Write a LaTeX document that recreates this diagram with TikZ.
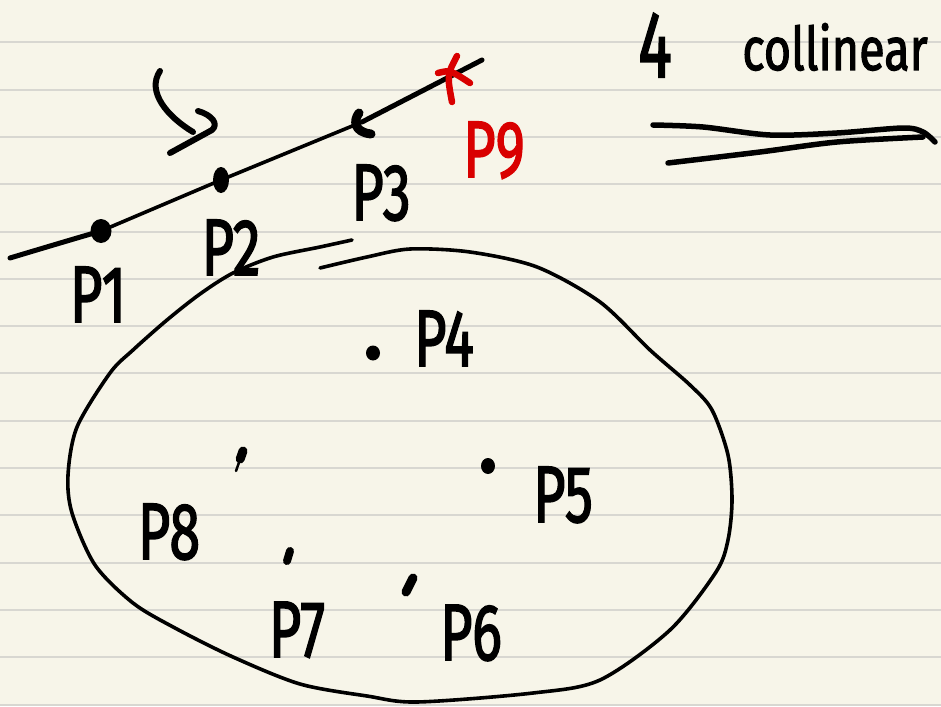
\documentclass[tikz,border=0pt]{standalone}
\usepackage{fontspec}
\setmainfont{Fira Sans}
\newfontfamily\hwfont{Fira Sans}[FakeBold=2.2]
\usetikzlibrary{shapes.geometric,calc}
\definecolor{paper}{HTML}{F7F5E9}
\definecolor{ruling}{HTML}{D8D7D1}
\definecolor{inkred}{HTML}{D90000}
\newcommand{\hw}[1]{\scalebox{0.7}[1]{#1}}
\begin{document}
\begin{tikzpicture}[x=1pt,y=-1pt,
  ink/.style={line width=3.6pt,line cap=round,line join=round},
  lbl/.style={inner sep=0pt,anchor=base,font=\hwfont\fontsize{80}{80}\selectfont},
  dotnode/.style={ellipse,fill=black,inner sep=0pt}]
\useasboundingbox (0,0) rectangle (941,706);
\fill[paper] (0,0) rectangle (941,706);
\foreach \k in {0,...,14}
  \draw[ruling,line width=2pt] (0,42.3+47.3*\k) -- (941,42.3+47.3*\k);

% points
\node[dotnode,minimum width=21pt,minimum height=24pt] (d1) at (101,231) {};
\node[dotnode,minimum width=16pt,minimum height=26pt] (d2) at (221,180) {};
\coordinate (d3) at (362,122);
\node[dotnode,minimum width=14pt,minimum height=15pt] (d4) at (373,353) {};
\node[dotnode,minimum width=14pt,minimum height=16pt] (d5) at (488,466) {};
\coordinate (d6a) at (413,578); \coordinate (d6b) at (406,592);
\coordinate (d7a) at (290,551); \coordinate (d7b) at (287,561);
\coordinate (d8a) at (243,451); \coordinate (d8b) at (236,471);

% main line
\coordinate (l0) at (10,258);
\coordinate (l9) at (482,60);
\draw[ink,line width=5pt] (l0) .. controls (40,249) and (70,240) .. (d1.center);
\draw[line width=3.6pt] (d1.center) -- (d2.center) -- (d3);
\draw[ink,line width=5pt] (d3) -- (l9);
\draw[ink,line width=9pt] (359,113) .. controls (353,121) and (354,132) .. (371,134);

% small point marks
\draw[ink,line width=9pt] (d6a) -- (d6b);
\draw[ink,line width=8pt] (d7a) -- (d7b);
\draw[ink,line width=9pt] (d8a) -- ($(d8a)!0.4!(d8b)$);
\draw[line width=2.5pt,line cap=round] (d8a) -- (d8b);

% red cross
\draw[ink,inkred,line width=6.5pt] (438,73) .. controls (450,70) .. (470,83);
\draw[ink,inkred,line width=6.5pt] (457,56) .. controls (447,75) .. (452,102);

% arrow
\draw[ink,line width=6pt] (160,71) .. controls (146,92) and (168,117) .. (193,132);
\draw[ink,line width=6pt] (198,111) .. controls (212,115) and (219,124) .. (212,130) -- (170,153);

% blob
\draw[ink] plot[smooth] coordinates {(320,268) (367,257) (410,249) (470,252) (537,267) (600,302) (650,350) (690,385) (712,410) (728,455) (732,500) (728,540) (716,572) (670,630) (600,680) (533,693) (417,702) (367,696) (300,684) (233,657) (175,628) (133,603) (95,565) (72,513) (68,475) (77,427) (110,373) (133,350) (167,320) (200,294) (233,273) (273,257) (320,247) (352,240)};

% labels
\node[lbl] (p1) at (98,322) {\hw{P1}};
\node[lbl] (p2) at (231,275) {\hw{P2}};
\node[lbl] (p3) at (381,220) {\hw{P3}};
\node[lbl] (p4) at (444,366) {\hw{P4}};
\node[lbl] (p5) at (563,522) {\hw{P5}};
\node[lbl] (p6) at (471,660) {\hw{P6}};
\node[lbl] (p7) at (297,657) {\hw{P7}};
\node[lbl] (p8) at (169,559) {\hw{P8}};
\node[lbl,text=inkred] (p9) at (494,177) {\hw{P9}};

% title
\node[inner sep=0pt,anchor=base,font=\hwfont\fontsize{94}{94}\selectfont] (four) at (655,77) {\scalebox{0.67}[1]{4}};
\node[inner sep=0pt,anchor=base,font=\hwfont\fontsize{60}{60}\selectfont] (coll) at (835,70) {\scalebox{0.78}[1]{collinear}};
\draw[ink,line width=5.5pt] plot[smooth] coordinates {(653,125) (703,127) (770,135) (837,133) (903,128) (923,132) (935,142)};
\draw[ink,line width=5.5pt] plot[smooth] coordinates {(668,163) (760,152) (837,142) (923,137)};
\end{tikzpicture}
\end{document}
